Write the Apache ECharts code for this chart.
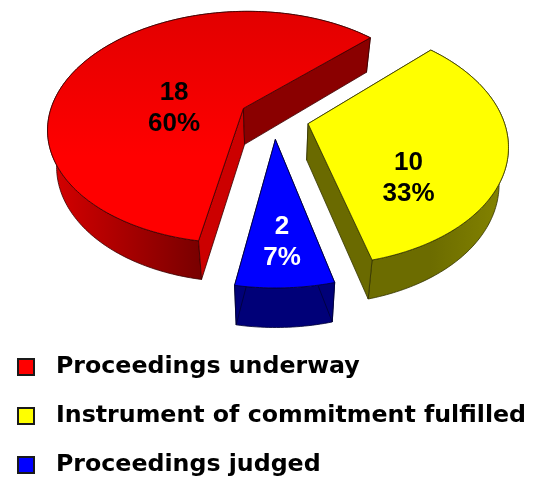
<!DOCTYPE html>
<html><head><meta charset="utf-8">
<style>html,body{margin:0;padding:0;background:#fff}#c{width:538px;height:479px;filter:blur(0.45px)}</style>
<script src="https://cdn.jsdelivr.net/npm/echarts@6/dist/echarts.min.js"></script>
</head><body><div id="c"></div>
<script>
var categories = ['Proceedings underway', 'Instrument of commitment fulfilled', 'Proceedings judged'];
var counts = [18, 10, 2];
var total = counts.reduce(function (a, b) { return a + b; }, 0);

// view settings, separate from the data
var view = { cx: 274, cy: 118, rx: 195, ry: 116, persp: 0.165, explode: 0.18, first: -170.2, depth: 35, shrink: 0.96 };
var looks = [
  { top: ['#e20000', '#ff0000'], wall: ['#d80000', '#7a0000'], cutStart: '#cc0000', cutEnd: '#8a0000', line: '#3a0000', text: '#000', lab: [-28, 0.36] },
  { top: ['#ffff00', '#ffff00'], wall: ['#858500', '#6c6c00'], cutStart: '#6a6a00', cutEnd: '#6a6a00', line: '#333300', text: '#000', lab: [27, 0.63] },
  { top: ['#0000ff', '#0000ff'], wall: ['#000078', '#000078'], cutStart: '#000078', cutEnd: '#000078', line: '#000033', text: '#fff', lab: [0, 0.73] }
];

function rad(d) { return d * Math.PI / 180; }
function project(X, Y) {
  var w = 1 / (1 - view.persp * Y);
  return [view.cx + view.rx * X * w, view.cy + view.ry * Y * w];
}
function lower(p) {
  return [view.cx + (p[0] - view.cx) * view.shrink, p[1] + view.depth + (p[1] - 60) * 0.02];
}
function grad(a, b, x0, y0, x1, y1) {
  if (a === b) return a;
  return new echarts.graphic.LinearGradient(x0, y0, x1, y1, [{ offset: 0, color: a }, { offset: 1, color: b }], true);
}
function sliceRange(i) {
  var before = 0;
  for (var k = 0; k < i; k++) before += counts[k];
  return [view.first + before / total * 360, view.first + (before + counts[i]) / total * 360];
}
function makeRender(i) {
  return function (params, api) {
    var value = api.value(0);
    var r = sliceRange(i), look = looks[i];
    var mid = (r[0] + r[1]) / 2;
    var ox = view.explode * Math.sin(rad(mid)), oy = -view.explode * Math.cos(rad(mid));
    var arc = [];
    for (var t = r[0]; t < r[1]; t += 1) arc.push(project(ox + Math.sin(rad(t)), oy - Math.cos(rad(t))));
    arc.push(project(ox + Math.sin(rad(r[1])), oy - Math.cos(rad(r[1]))));
    var apex = project(ox, oy);
    var lowArc = arc.map(lower), lowApex = lower(apex);
    var first = arc[0], last = arc[arc.length - 1];
    var xs = arc.map(function (p) { return p[0]; });
    var ys = arc.map(function (p) { return p[1]; });
    var minX = Math.min.apply(null, xs), maxX = Math.max.apply(null, xs);
    var minY = Math.min.apply(null, ys), maxY = Math.max.apply(null, ys);
    var wallFill = i === 0 ? grad(look.wall[0], look.wall[1], minX, 0, first[0], 0)
      : grad(look.wall[1], look.wall[0], first[0], 0, maxX, 0);
    function poly(points, fill, z) {
      return { type: 'polygon', z2: z, shape: { points: points }, style: { fill: fill, stroke: look.line, lineWidth: 0.8, lineJoin: 'round' } };
    }
    var kids = [];
    kids.push(poly(arc.concat(lowArc.slice().reverse()), wallFill, 1));
    kids.push(poly([apex, first, lowArc[0], lowApex], look.cutStart, 2));
    kids.push(poly([apex, last, lowArc[lowArc.length - 1], lowApex], look.cutEnd, 2));
    kids.push(poly([apex].concat(arc), grad(look.top[0], look.top[1], 0, minY, 0, (minY + maxY) / 2 + 30), 3));
    var la = mid + look.lab[0], lr = look.lab[1];
    var lp = project(ox + lr * Math.sin(rad(la)), oy - lr * Math.cos(rad(la)));
    kids.push({
      type: 'text', z2: 4,
      style: {
        text: value + '\n' + Math.round(value / total * 100) + '%',
        x: lp[0], y: lp[1], align: 'center', verticalAlign: 'middle',
        font: 'bold 26px "Liberation Sans", Arial, sans-serif', lineHeight: 31, fill: look.text
      }
    });
    return { type: 'group', children: kids };
  };
}

var chart = echarts.init(document.getElementById('c'), null, { renderer: 'canvas', width: 538, height: 479 });
chart.setOption({
  animation: false,
  backgroundColor: '#fff',
  legend: {
    orient: 'vertical', left: 12, top: 350, height: 129, itemWidth: 16, itemHeight: 16, itemGap: 25, selectedMode: false,
    icon: 'rect',
    itemStyle: { borderColor: '#1a1a1a', borderWidth: 2 },
    textStyle: { fontFamily: '"DejaVu Sans", sans-serif', fontWeight: 'bold', fontSize: 23.7, color: '#000', padding: [0, 0, 0, 17] },
    data: categories.map(function (c) { return { name: c }; })
  },
  series: categories.map(function (c, i) {
    return {
      type: 'custom', name: c, coordinateSystem: 'none', silent: true,
      itemStyle: { color: looks[i].top[1] },
      renderItem: makeRender(i),
      data: [[counts[i]]]
    };
  })
});
</script></body></html>
